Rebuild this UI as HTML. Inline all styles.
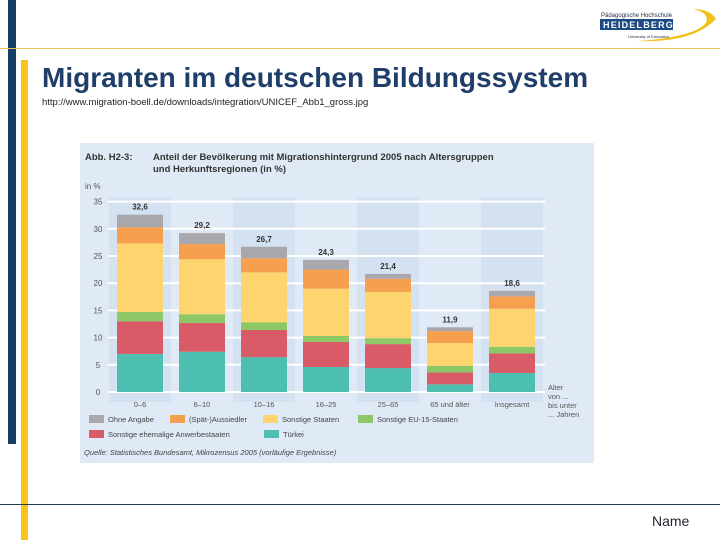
<!DOCTYPE html>
<html><head><meta charset="utf-8"><style>
body{margin:0;width:720px;height:540px;overflow:hidden;background:#fff;font-family:"Liberation Sans",sans-serif;position:relative}
.abs{position:absolute}
</style></head><body>
<div class="abs" style="left:8px;top:0;width:8px;height:444px;background:#173f66"></div>
<div class="abs" style="left:0;top:48px;width:720px;height:1px;background:#e8c45a"></div>
<div class="abs" style="left:21px;top:60px;width:7px;height:480px;background:#f7c41a"></div>
<div class="abs" style="left:0;top:504px;width:720px;height:1px;background:#23404e"></div>
<div class="abs" style="left:598px;top:5px;width:120px;height:40px">
<svg width="120" height="40"><path d="M40 36 Q95 38 118 14 Q112 4 95 4 Q112 8 108 18 Q96 32 40 36Z" fill="#f2c21c"/>
<text x="3" y="12" font-size="6" fill="#234">Pädagogische Hochschule</text>
<rect x="2" y="14" width="73" height="11" fill="#1b4a85"/>
<text x="5" y="23" font-size="9" fill="#fff" font-weight="bold" letter-spacing="1.2">HEIDELBERG</text>
<text x="30" y="33" font-size="4" fill="#234">University of Education</text></svg></div>
<div class="abs" style="left:42px;top:62px;font-size:28px;font-weight:bold;color:#1f3f6a;white-space:nowrap">Migranten im deutschen Bildungssystem</div>
<div class="abs" style="left:42px;top:97px;font-size:9.5px;color:#222">http://www.migration-boell.de/downloads/integration/UNICEF_Abb1_gross.jpg</div>
<div class="abs" style="left:652px;top:513px;font-size:14px;color:#223">Name</div>
<svg class="abs" style="left:0;top:0" width="720" height="540" id="chart"></svg>
<script>
const categories=["0–6","6–10","10–16","16–25","25–65","65 und älter","Insgesamt"];
const tuerkei=[7.0,7.4,6.4,4.6,4.4,1.4,3.5];
const anwerbe=[6.0,5.3,5.0,4.6,4.4,2.2,3.6];
const eu15=[1.7,1.6,1.4,1.1,1.1,1.2,1.2];
const sonstige=[12.6,10.1,9.2,8.7,8.5,4.2,7.0];
const spaet=[3.0,2.8,2.6,3.5,2.4,2.2,2.3];
const ohne=[2.3,2.0,2.1,1.8,0.9,0.7,1.0];
const totals=["32,6","29,2","26,7","24,3","21,4","11,9","18,6"];
const yTicks=[0,5,10,15,20,25,30,35];
const series=[tuerkei,anwerbe,eu15,sonstige,spaet,ohne];
const colors=["#4dbfb0","#d95b68","#8cc865","#fdd46e","#f6a04f","#a9a9ad"];
const names=["tuerkei","anwerbe","eu15","sonstige","spaet","ohne"];
const svg=document.getElementById('chart');const NS="http://www.w3.org/2000/svg";
function el(t,a,p){const e=document.createElementNS(NS,t);for(const k in a)e.setAttribute(k,a[k]);(p||svg).appendChild(e);return e;}
const y=v=>392-v*5.44;const x=i=>140+i*62;
let e=el('rect',{x:80,y:143,width:514,height:320,fill:'#e0eaf6'});

[0,2,4,6].forEach(i=>{e=el('rect',{x:x(i)-31,y:y(35)-4,width:62,height:y(0)-y(35)+14,fill:'#d3e1f1'});
});
yTicks.forEach(t=>{e=el('line',{x1:108,x2:545,y1:y(t),y2:y(t),stroke:'#fff','stroke-width':2});

e=el('text',{x:98,y:y(t)+3,'font-size':8,fill:'#555','text-anchor':'middle'});e.textContent=t;
});
e=el('text',{x:85,y:189,'font-size':8,fill:'#555'});e.textContent='in %';

categories.forEach((c,i)=>{let acc=0;
series.forEach((s,j)=>{const v=s[i];e=el('rect',{x:x(i)-23,y:y(acc+v),width:46,height:y(acc)-y(acc+v),fill:colors[j]});
acc+=v;});
e=el('text',{x:x(i),y:y(acc)-5,'font-size':8,'font-weight':'bold',fill:'#333','text-anchor':'middle'});e.textContent=totals[i];

e=el('text',{x:x(i),y:407,'font-size':7.5,fill:'#555','text-anchor':'middle'});e.textContent=c;
});
[["Alter",390],["von ...",399],["bis unter",408],["... Jahren",417]].forEach(a=>{e=el('text',{x:548,y:a[1],'font-size':7.5,fill:'#555'});e.textContent=a[0];
});
[["Abb. H2-3:",85,160],["Anteil der Bevölkerung mit Migrationshintergrund 2005 nach Altersgruppen",153,160],["und Herkunftsregionen (in %)",153,172]].forEach(a=>{e=el('text',{x:a[1],y:a[2],'font-size':9.5,'font-weight':'bold',fill:'#333'});e.textContent=a[0];
});
const leg=[["Ohne Angabe",89,420,5],["(Spät-)Aussiedler",170,420,4],["Sonstige Staaten",263,420,3],["Sonstige EU-15-Staaten",358,420,2],["Sonstige ehemalige Anwerbestaaten",89,435,1],["Türkei",264,435,0]];
leg.forEach(l=>{e=el('rect',{x:l[1],y:l[2]-5,width:15,height:8,fill:colors[l[3]]});

e=el('text',{x:l[1]+19,y:l[2]+2,'font-size':7.5,fill:'#444'});e.textContent=l[0];
});
e=el('text',{x:84,y:455,'font-size':7.5,'font-style':'italic',fill:'#444'});e.textContent='Quelle: Statistisches Bundesamt, Mikrozensus 2005 (vorläufige Ergebnisse)';

</script>
</body></html>
